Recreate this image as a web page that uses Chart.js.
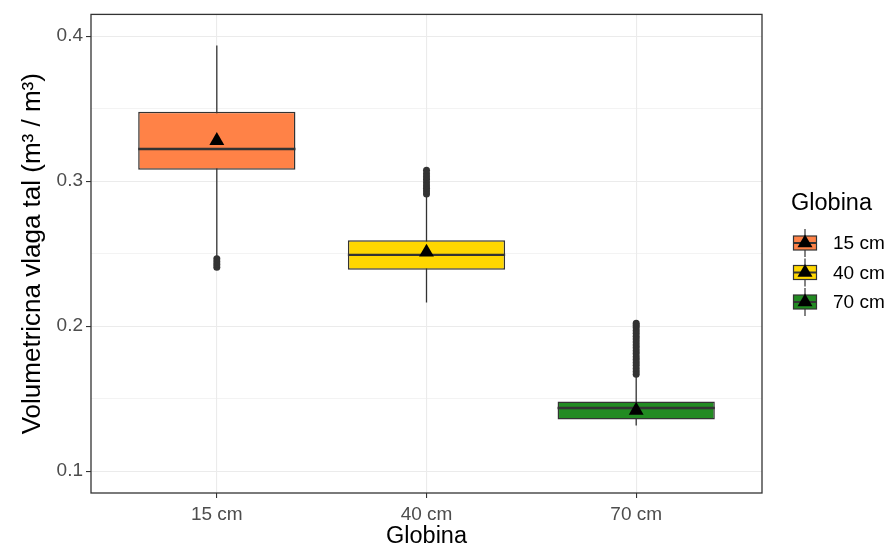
<!DOCTYPE html>
<html>
<head>
<meta charset="utf-8">
<script src="https://cdn.jsdelivr.net/npm/chart.js@4.4.1/dist/chart.umd.min.js"></script>
<style>
  html, body { margin: 0; padding: 0; background: #fff; }
</style>
</head>
<body>
<canvas id="chart" width="892" height="549"></canvas>
<script>
const categories = ['15 cm', '40 cm', '70 cm']
const q1 = [0.3078, 0.2389, 0.1356]
const median = [0.3222, 0.2492, 0.1436]
const q3 = [0.3478, 0.2593, 0.1481]
const whiskerLow = [0.248, 0.2163, 0.1315]
const whiskerHigh = [0.3936, 0.290, 0.1665]
const means = [0.328, 0.251, 0.142]
const outliers15 = [0.2406, 0.2425, 0.2445, 0.2466]
const outliers40 = [0.2911, 0.2932, 0.2951, 0.2969, 0.2990, 0.3011, 0.3030, 0.3052, 0.3075]
const outliers70 = [0.1669, 0.1688, 0.1709, 0.1731, 0.1750, 0.1771, 0.1790, 0.1812, 0.1830,
                    0.1851, 0.1870, 0.1892, 0.1911, 0.1930, 0.1952, 0.1970, 0.1991, 0.2006, 0.2021]
const fills = ['#FF8247', '#FFD700', '#228B22']
const yTicks = [0.1, 0.2, 0.3, 0.4]
const yMinor = [0.15, 0.25, 0.35]

const FONT = '"Liberation Sans", Arial, sans-serif'
const DARK = '#333333'
const GRID = '#EBEBEB'

Chart.defaults.font.family = FONT

const outliers = [outliers15, outliers40, outliers70]
const boxData = categories.map((c, i) => ({ x: i + 1, y: [q1[i], q3[i]] }))
const whiskerData = []
const medianData = []
categories.forEach((c, i) => {
    whiskerData.push({ x: i + 1, y: whiskerLow[i] }, { x: i + 1, y: whiskerHigh[i] }, { x: i + 1, y: null })
    medianData.push({ x: i + 0.625, y: median[i] }, { x: i + 1.375, y: median[i] }, { x: i + 1, y: null })
})
const outlierData = outliers.flatMap((list, i) => list.map(v => ({ x: i + 1, y: v })))
const meanData = means.map((v, i) => ({ x: i + 1, y: v }))

const isMajor = v => yTicks.some(t => Math.abs(t - v) < 1e-9)

// ggplot style panel border and legend on the right
const panelAndLegend = {
    id: 'panelAndLegend',
    afterDatasetsDraw(chart) {
        const { ctx, chartArea: a } = chart
        ctx.save()
        ctx.strokeStyle = DARK
        ctx.lineWidth = 1.3
        ctx.strokeRect(a.left, a.top, a.right - a.left, a.bottom - a.top)
        ctx.restore()
    },
    afterDraw(chart) {
        const ctx = chart.ctx
        ctx.save()
        ctx.fillStyle = '#000'
        ctx.textBaseline = 'middle'
        ctx.font = '23.5px ' + FONT
        ctx.fillText('Globina', 791, 204)
        categories.forEach((c, i) => {
            const cx = 805, cy = 243 + i * 29.5
            ctx.strokeStyle = DARK
            ctx.lineWidth = 1.2
            ctx.beginPath()
            ctx.moveTo(cx, cy - 14)
            ctx.lineTo(cx, cy + 14)
            ctx.stroke()
            ctx.fillStyle = fills[i]
            ctx.fillRect(cx - 11.5, cy - 7, 23, 14)
            ctx.strokeRect(cx - 11.5, cy - 7, 23, 14)
            ctx.lineWidth = 2
            ctx.beginPath()
            ctx.moveTo(cx - 11.5, cy)
            ctx.lineTo(cx + 11.5, cy)
            ctx.stroke()
            ctx.fillStyle = '#000'
            ctx.beginPath()
            ctx.moveTo(cx, cy - 8.6)
            ctx.lineTo(cx + 7.5, cy + 4.3)
            ctx.lineTo(cx - 7.5, cy + 4.3)
            ctx.closePath()
            ctx.fill()
            ctx.font = '19px ' + FONT
            ctx.fillText(c, 833, cy + 1)
        })
        ctx.restore()
    }
}

new Chart(document.getElementById('chart'), {
    type: 'bar',
    data: {
        datasets: [{
            type: 'line',
            data: whiskerData,
            borderColor: DARK,
            borderWidth: 1.3,
            pointRadius: 0,
            spanGaps: false,
            order: 5,
        }, {
            type: 'bar',
            data: boxData,
            backgroundColor: fills,
            borderColor: DARK,
            borderWidth: 1.5,
            borderSkipped: false,
            barPercentage: 0.75,
            categoryPercentage: 1,
            order: 4,
        }, {
            type: 'line',
            data: medianData,
            borderColor: DARK,
            borderWidth: 2.4,
            pointRadius: 0,
            spanGaps: false,
            order: 3,
        }, {
            type: 'scatter',
            data: outlierData,
            backgroundColor: DARK,
            borderWidth: 0,
            pointRadius: 3.5,
            order: 2,
        }, {
            type: 'scatter',
            data: meanData,
            backgroundColor: '#000',
            borderWidth: 0,
            pointStyle: 'triangle',
            pointRadius: 8.6,
            order: 1,
        }]
    },
    options: {
        responsive: false,
        animation: false,
        events: [],
        layout: { padding: { left: 0, top: 12, right: 130, bottom: 0 } },
        plugins: { legend: { display: false }, tooltip: { enabled: false } },
        scales: {
            x: {
                type: 'linear',
                min: 0.4,
                max: 3.6,
                offset: false,
                afterFit: s => { s.height = 56 },
                afterBuildTicks: s => { s.ticks = categories.map((c, i) => ({ value: i + 1 })) },
                ticks: {
                    callback: v => categories[v - 1],
                    color: '#4D4D4D',
                    font: { size: 19 },
                    padding: 5,
                    maxRotation: 0,
                    autoSkip: false,
                },
                grid: { offset: false, color: GRID, lineWidth: 1.1, tickLength: 5, tickColor: DARK, tickWidth: 1.1 },
                border: { display: false },
                title: { display: true, text: 'Globina', color: '#000', font: { size: 23.5, lineHeight: 1.1 }, padding: { top: 0, bottom: 0 } },
            },
            y: {
                min: 0.085,
                max: 0.415,
                afterFit: s => { s.width = 91 },
                afterBuildTicks: s => { s.ticks = yTicks.concat(yMinor).sort((a, b) => a - b).map(v => ({ value: v })) },
                ticks: {
                    callback: v => isMajor(v) ? v.toFixed(1) : '',
                    color: '#4D4D4D',
                    font: { size: 19 },
                    padding: 3,
                },
                grid: {
                    color: GRID,
                    lineWidth: c => isMajor(c.tick.value) ? 1.1 : 0.6,
                    tickLength: 5,
                    tickColor: c => isMajor(c.tick.value) ? DARK : 'rgba(0,0,0,0)',
                    tickWidth: 1.1,
                },
                border: { display: false },
                title: { display: true, text: 'Volumetricna vlaga tal (m³ / m³)', color: '#000', font: { size: 26, lineHeight: 1.1 }, padding: { top: 19, bottom: 0 } },
            }
        }
    },
    plugins: [panelAndLegend]
})
</script>
</body>
</html>
